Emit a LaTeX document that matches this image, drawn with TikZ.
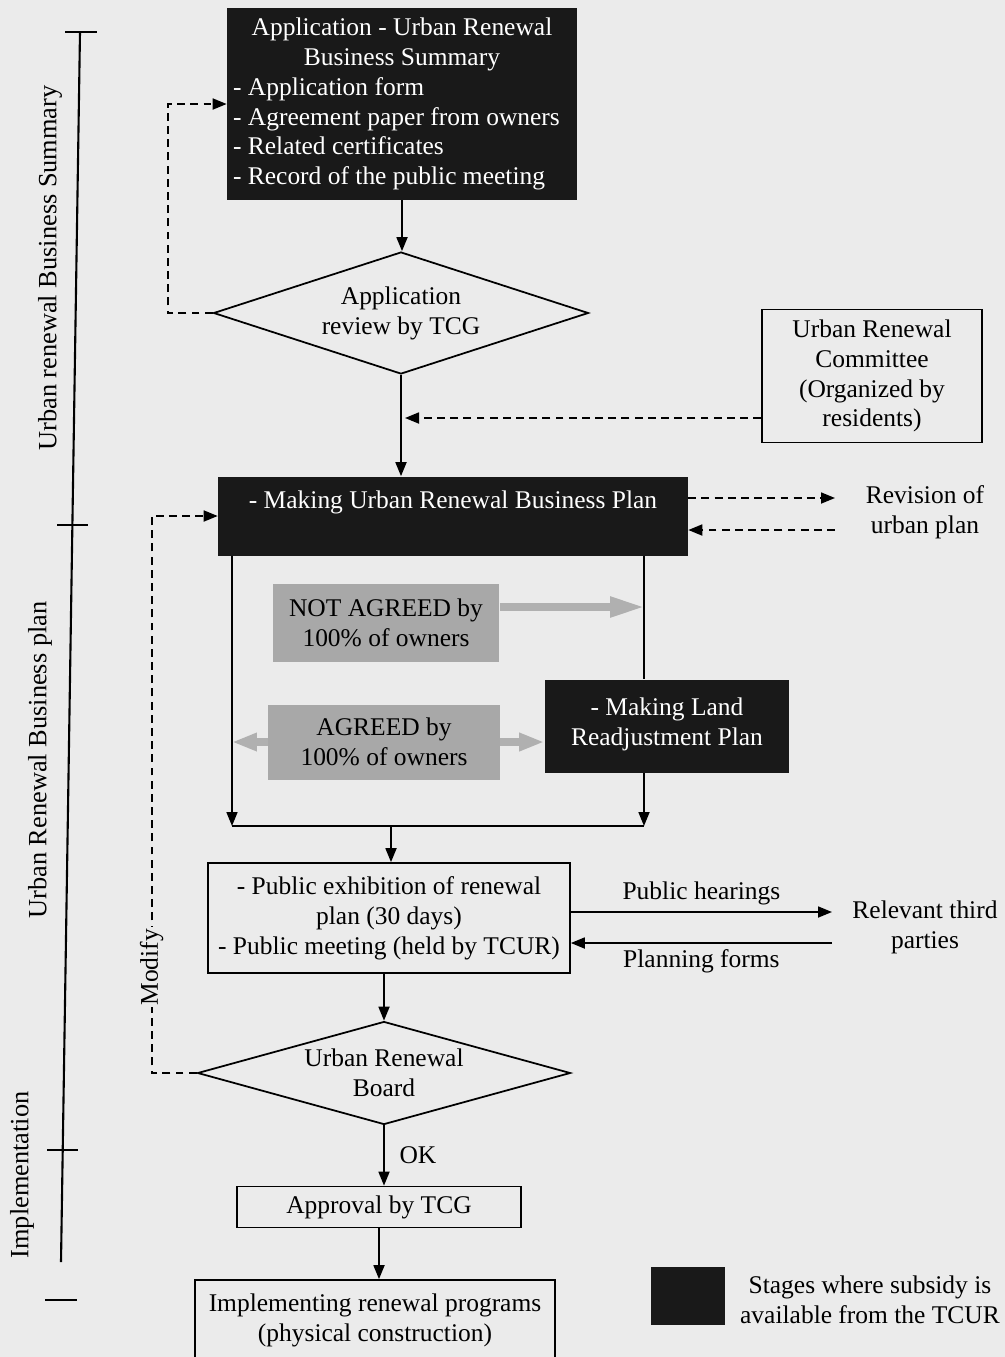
\documentclass[tikz,border=0pt]{standalone}
\usepackage{fontspec}
\setmainfont{Liberation Serif}
\usetikzlibrary{shapes.geometric,arrows.meta}
\definecolor{paper}{gray}{0.92}
\definecolor{inkbox}{gray}{0.1}
\definecolor{greybox}{gray}{0.66}
\definecolor{greyarrow}{gray}{0.69}

\begin{document}
\begin{tikzpicture}[x=0.02cm,y=-0.02cm,
  font=\fontsize{14.5}{17}\selectfont,
  darkbox/.style={fill=inkbox, text=white, inner sep=0pt, align=center},
  plainbox/.style={draw, line width=1pt, inner sep=0pt, align=center},
  shadebox/.style={fill=greybox, inner sep=0pt, align=center},
  decision/.style={diamond, draw, line width=1pt, inner sep=0pt, align=center},
  flow/.style={line width=1pt, -{Triangle[length=0.28cm,width=0.22cm]}},
  dflow/.style={flow, dash pattern=on 4.5pt off 3pt},
  garrow/.style={greyarrow, line width=4.5pt, -{Triangle[length=0.7cm,width=0.38cm]}},
  sidelabel/.style={rotate=90, font=\fontsize{15}{18}\selectfont}]
\useasboundingbox (0,0) rectangle (1005,1357);
\fill[paper] (0,0) rectangle (1005,1357);

\draw[line width=1.2pt] (80,32) -- (61,1262);
\draw[line width=1.2pt] (65,32) -- (97,32);
\draw[line width=1.2pt] (57,525) -- (88,525);
\draw[line width=1.2pt] (47,1150) -- (78,1150);
\draw[line width=1.2pt] (45,1300) -- (77,1300);
\node[sidelabel] (summary) at (50,268) {Urban renewal Business Summary};
\node[sidelabel] (bplan) at (40,760) {Urban Renewal Business plan};
\node[sidelabel] (implem) at (22,1175) {Implementation};

\node[darkbox, minimum width=7cm, minimum height=3.84cm] (app) at (402,104) {%
  \begin{minipage}{6.76cm}\centering Application - Urban Renewal\\Business Summary\par
  \raggedright - Application form\\- Agreement paper from owners\\- Related certificates\\- Record of the public meeting\end{minipage}};
\node[decision, aspect=3, minimum width=7.5cm, minimum height=2.44cm] (rev) at (401,313) {Application\\review by TCG};
\node[plainbox, minimum width=4.4cm, minimum height=2.66cm] (committee) at (872,376) {Urban Renewal\\Committee\\(Organized by\\residents)};
\node[darkbox, minimum width=9.4cm, minimum height=1.58cm] (plan) at (453,516) {\raisebox{0.64cm}{- Making Urban Renewal Business Plan}};
\node[align=center] (revision) at (925,512) {Revision of\\urban plan};
\node[shadebox, minimum width=4.54cm, minimum height=1.56cm] (notagr) at (386,623) {NOT AGREED by\\100\% of owners};
\node[shadebox, minimum width=4.64cm, minimum height=1.5cm] (agr) at (384,742) {AGREED by\\100\% of owners};
\node[darkbox, minimum width=4.9cm, minimum height=1.86cm] (land) at (667,726) {\raisebox{0.52cm}{\begin{tabular}{@{}c@{}}- Making Land\\Readjustment Plan\end{tabular}}};
\node[plainbox, minimum width=7.24cm, minimum height=2.2cm] (exhib) at (389,918) {- Public exhibition of renewal\\plan (30 days)\\- Public meeting (held by TCUR)};
\node[align=center] (third) at (925,927) {Relevant third\\parties};
\node[decision, aspect=3.6, minimum width=7.46cm, minimum height=2.06cm] (board) at (384,1073) {Urban Renewal\\Board};
\node[plainbox, minimum width=5.68cm, minimum height=0.82cm] (approve) at (379,1207) {Approval by TCG};
\node[plainbox, minimum width=7.2cm, minimum height=1.6cm] (impl) at (375,1320) {Implementing renewal programs\\(physical construction)};
\node[fill=inkbox, minimum width=1.5cm, minimum height=1.16cm] (legendbox) at (688,1296) {};
\node[align=center] (legendtext) at (870,1300) {Stages where subsidy is\\available from the TCUR};

\coordinate (cin) at (405,418);
\coordinate (revout) at (835,498);
\coordinate (revin) at (835,530);
\coordinate (mleft) at (232,826);
\coordinate (mright) at (644,826);
\coordinate (mmid) at (391,826);
\coordinate (gna) at (645,607);
\coordinate (phend) at (832,912);
\coordinate (pfstart) at (832,943);

\draw[flow] (app.south) -- (app.south |- rev.north);
\draw[dflow] (rev.west) -- ++(-45,0) |- (app.west);
\draw[flow] (rev.south) -- (rev.south |- plan.north);
\draw[dflow] (committee.west |- cin) -- (cin);
\draw[dflow] (plan.east |- revout) -- (revout);
\draw[dflow] (revin) -- (plan.east |- revin);
\draw[flow] (plan.south -| mleft) -- (mleft);
\draw[line width=1pt] (plan.south -| mright) -- (land.north -| mright);
\draw[flow] (land.south -| mright) -- (mright);
\draw[line width=1pt] (mleft) -- (mright);
\draw[garrow] (notagr.east |- gna) -- (gna);
\draw[garrow, -{Triangle[length=0.5cm,width=0.34cm]}] (agr.west) -- (agr.west -| mleft);
\draw[garrow, -{Triangle[length=0.5cm,width=0.34cm]}] (agr.east) -- (land.west |- agr.east);
\draw[flow] (mmid) -- (mmid |- exhib.north);
\draw[flow] (exhib.east |- phend) -- (phend) node[midway, above] {Public hearings};
\draw[flow] (pfstart) -- (exhib.east |- pfstart) node[midway, below] {Planning forms};
\draw[flow] (exhib.south -| board.north) -- (board.north);
\draw[dflow] (board.west) -- ++(-45,0) coordinate (mc) -- (mc |- plan.west)
  node[pos=0.19, rotate=90, fill=paper, inner sep=1pt] {Modify} -- (plan.west);
\draw[flow] (board.south) -- (board.south |- approve.north) node[midway, right=5pt] {OK};
\draw[flow] (approve.south) -- (approve.south |- impl.north);
\end{tikzpicture}
\end{document}
